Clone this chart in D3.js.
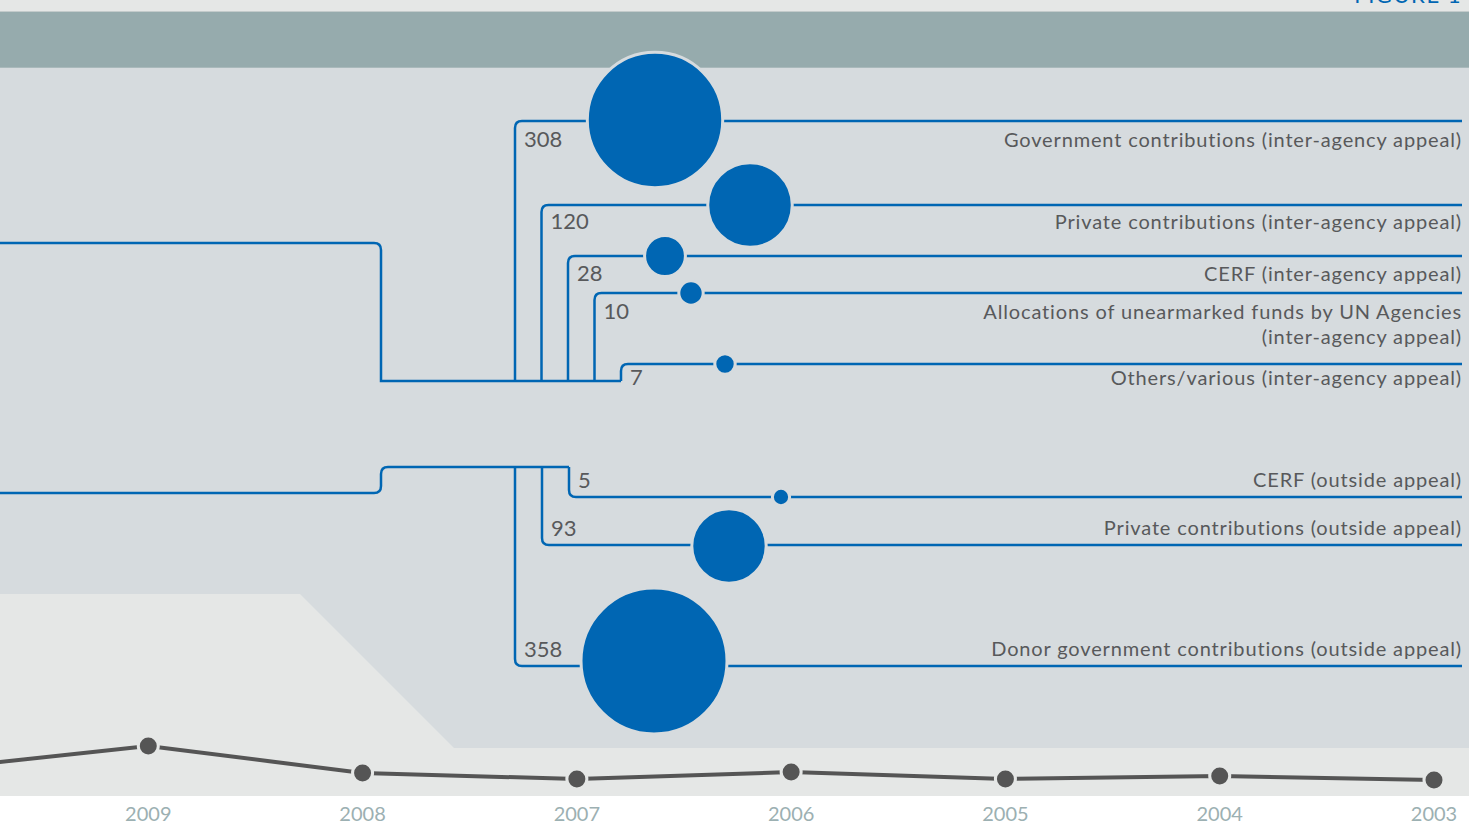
<!DOCTYPE html>
<html>
<head>
<meta charset="UTF-8">
<title>Funding flows</title>
<style>
  body { margin: 0; background: #fff; }
  svg { display: block; font-family: Lato, "Noto Sans", sans-serif; }
</style>
</head>
<body>
<div id="chart"></div>
<script src="https://cdn.jsdelivr.net/npm/d3@7"></script>
<script>
// inter-agency appeal branches
const appealNames = [
  ["Government contributions (inter-agency appeal)"],
  ["Private contributions (inter-agency appeal)"],
  ["CERF (inter-agency appeal)"],
  ["Allocations of unearmarked funds by UN Agencies", "(inter-agency appeal)"],
  ["Others/various (inter-agency appeal)"]
];
const appealValues = [308, 120, 28, 10, 7];

// outside appeal branches
const outsideNames = [
  ["CERF (outside appeal)"],
  ["Private contributions (outside appeal)"],
  ["Donor government contributions (outside appeal)"]
];
const outsideValues = [5, 93, 358];

// trend line at the bottom
const years = [2010, 2009, 2008, 2007, 2006, 2005, 2004, 2003];
const trendValues = [21, 44, 17, 11, 18, 11, 14, 10];

// layout (pixels)
const W = 1469, H = 824;
const appealLineY = [121, 205, 256, 293, 364];
const appealLabelY = [147, 229, 281, 319, 385];
const appealBubbleX = [655, 750, 665, 691, 725];
const appealBubbleY = [120, 205, 256, 293, 364];
const outsideLineY = [497, 545, 666];
const outsideBubbleX = [781, 729, 654];
const outsideBubbleY = [497, 546, 661];
const BLUE = "#0066b3", TEXT = "#58595b";

const svg = d3.select("#chart").append("svg")
  .attr("width", W).attr("height", H);

// background panels
svg.append("rect").attr("width", W).attr("height", 796).attr("fill", "#e5e7e6");
svg.append("rect").attr("y", 11).attr("width", W).attr("height", 57).attr("fill", "#96abad");
svg.append("rect").attr("y", 11).attr("width", W).attr("height", 1).attr("fill", "#c3cbcb");
svg.append("rect").attr("y", 67).attr("width", W).attr("height", 1).attr("fill", "#a9b9bb");
svg.append("path")
  .attr("d", `M0,68H${W}V748H454L300,594H0Z`)
  .attr("fill", "#d6dbde");

svg.append("text")
  .attr("x", 1462).attr("y", 3).attr("text-anchor", "end")
  .attr("fill", BLUE).attr("font-size", 22).attr("letter-spacing", 1.5)
  .text("FIGURE 1");

const rightEdge = 1462, r = 7;
const size = d3.scaleSqrt().domain([0, 358]).range([0, 73]);

// upper trunk
const upX = d3.scalePoint().domain(d3.range(appealValues.length)).range([515, 621]);
const upTrunkY = 381;
const g = svg.append("g").attr("fill", "none").attr("stroke", BLUE).attr("stroke-width", 2.5);

g.append("path").attr("d",
  `M0,243H${381 - r}Q381,243 381,${243 + r}V${upTrunkY}H${upX(appealValues.length - 1)}`);

g.selectAll(".up").data(appealValues).enter().append("path")
  .attr("d", (d, i) => {
    const x = upX(i), y = appealLineY[i];
    return `M${x},${upTrunkY}V${y + r}Q${x},${y} ${x + r},${y}H${rightEdge}`;
  });

// lower trunk
const loX = d3.scalePoint().domain([2, 1, 0]).range([515, 569]);
const loTop = 467;
g.append("path").attr("d",
  `M0,493H${381 - r}Q381,493 381,${493 - r}V${loTop + r}Q381,${loTop} ${381 + r},${loTop}H${loX(0)}`);

g.selectAll(".lo").data(outsideValues).enter().append("path")
  .attr("d", (d, i) => {
    const x = loX(i), y = outsideLineY[i];
    return `M${x},${loTop}V${y - r}Q${x},${y} ${x + r},${y}H${rightEdge}`;
  });

// bubbles
svg.selectAll(".bu").data(appealValues).enter().append("circle")
  .attr("cx", (d, i) => appealBubbleX[i]).attr("cy", (d, i) => appealBubbleY[i])
  .attr("r", d => size(d))
  .attr("fill", BLUE).attr("stroke", "#d6dbde").attr("stroke-width", 3);
svg.selectAll(".bl").data(outsideValues).enter().append("circle")
  .attr("cx", (d, i) => outsideBubbleX[i]).attr("cy", (d, i) => outsideBubbleY[i])
  .attr("r", d => size(d))
  .attr("fill", BLUE).attr("stroke", "#d6dbde").attr("stroke-width", 3);

// value labels
svg.selectAll(".vu").data(appealValues).enter().append("text")
  .attr("x", (d, i) => upX(i) + 9).attr("y", (d, i) => appealLabelY[i])
  .attr("font-size", 22).attr("fill", TEXT).text(d => d);
svg.selectAll(".vl").data(outsideValues).enter().append("text")
  .attr("x", (d, i) => loX(i) + 9).attr("y", (d, i) => outsideLineY[i] - 9)
  .attr("font-size", 22).attr("fill", TEXT).text(d => d);

// category labels
function names(sel, list, ys) {
  const t = sel.selectAll(null).data(list).enter().append("text")
    .attr("x", rightEdge).attr("y", (d, i) => ys[i])
    .attr("text-anchor", "end").attr("font-size", 20)
    .attr("letter-spacing", 0.85).attr("fill", TEXT);
  t.selectAll("tspan").data(d => d).enter().append("tspan")
    .attr("x", rightEdge).attr("dy", (d, j) => j ? 25 : 0).text(d => d);
}
names(svg, appealNames, appealLabelY);
names(svg, outsideNames, outsideLineY.map(v => v - 10));

// trend line
const x = d3.scaleLinear().domain([2010, 2003]).range([-66, 1434]);
const y = d3.scaleLinear().domain([0, 50]).range([790, 740]);
svg.append("path").datum(years.map((yr, i) => [yr, trendValues[i]]))
  .attr("d", d3.line().x(d => x(d[0])).y(d => y(d[1])))
  .attr("fill", "none").attr("stroke", "#555").attr("stroke-width", 4);
svg.selectAll(".dot").data(years).enter().append("circle")
  .attr("cx", d => x(d)).attr("cy", (d, i) => y(trendValues[i]))
  .attr("r", 10).attr("fill", "#555").attr("stroke", "#e5e7e6").attr("stroke-width", 3);

svg.selectAll(".yr").data(years.slice(1)).enter().append("text")
  .attr("x", d => x(d)).attr("y", 821).attr("text-anchor", "middle")
  .attr("font-size", 20).attr("fill", "#9cb0b2").text(d => d);
</script>
</body>
</html>
